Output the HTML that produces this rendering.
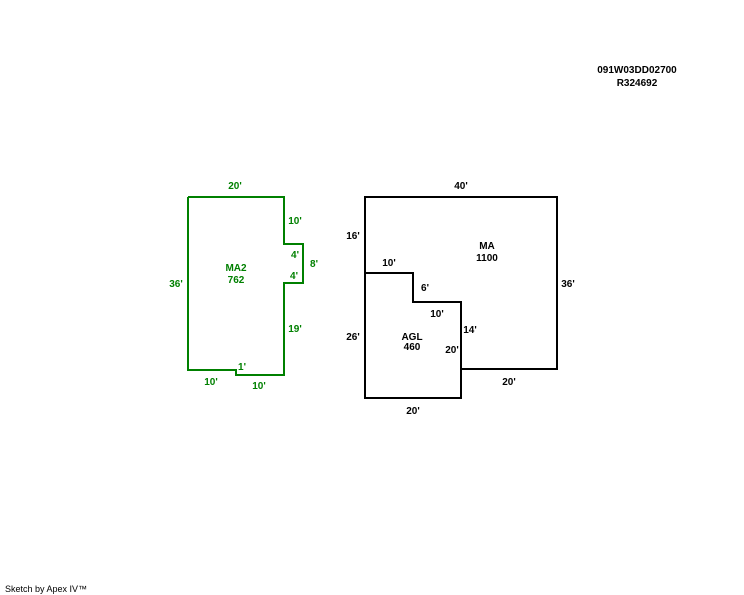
<!DOCTYPE html>
<html><head><meta charset="utf-8"><style>
html,body{margin:0;padding:0;background:#fff;width:744px;height:595px;overflow:hidden}
svg text{font-family:"Liberation Sans",Arial,sans-serif;font-size:10px;font-weight:bold}
</style></head><body>
<svg width="744" height="595" viewBox="0 0 744 595">
<g fill="none" stroke-width="2">
<polyline stroke="#008000" points="188,197 284,197 284,244 303,244 303,283 284,283 284,375 236,375 236,370 188,370 188,197"/>
<polyline stroke="#000" points="365,273 365,197 557,197 557,369 461,369"/>
<polyline stroke="#000" points="365,273 413,273 413,302 461,302 461,398 365,398 365,273"/>
</g>
<g fill="#008000" text-anchor="middle">
<text x="235" y="189">20'</text>
<text x="295" y="224">10'</text>
<text x="295" y="258">4'</text>
<text x="314" y="267">8'</text>
<text x="294" y="279">4'</text>
<text x="176" y="287">36'</text>
<text x="236" y="271">MA2</text>
<text x="236" y="283">762</text>
<text x="295" y="332">19'</text>
<text x="242" y="370">1'</text>
<text x="211" y="385">10'</text>
<text x="259" y="389">10'</text>
</g>
<g fill="#000" text-anchor="middle">
<text x="461" y="189">40'</text>
<text x="353" y="239">16'</text>
<text x="487" y="249">MA</text>
<text x="487" y="261">1100</text>
<text x="389" y="266">10'</text>
<text x="568" y="287">36'</text>
<text x="425" y="291">6'</text>
<text x="437" y="317">10'</text>
<text x="470" y="333">14'</text>
<text x="353" y="340">26'</text>
<text x="412" y="340">AGL</text>
<text x="412" y="350">460</text>
<text x="452" y="353">20'</text>
<text x="509" y="385">20'</text>
<text x="413" y="414">20'</text>
<text x="637" y="73">091W03DD02700</text>
<text x="637" y="86">R324692</text>
</g>
<text x="5" y="592" style="font-size:9px;font-weight:normal">Sketch by Apex IV™</text>
</svg>
</body></html>
